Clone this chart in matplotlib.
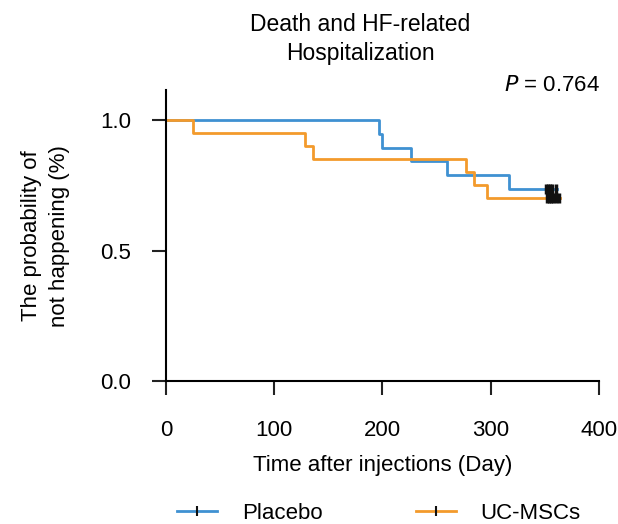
import matplotlib.pyplot as plt
from matplotlib.lines import Line2D

plt.rcParams['font.family'] = ['Liberation Sans', 'DejaVu Sans']
plt.rcParams['font.size'] = 16

# Kaplan-Meier steps
placebo_t = [0, 197, 200, 226, 260, 317, 361]
placebo_s = [1.0, 0.947, 0.895, 0.842, 0.789, 0.737, 0.737]
placebo_cens = [351, 353, 355, 357, 360]

msc_t = [0, 25, 128, 136, 277, 285, 297, 364]
msc_s = [1.0, 0.95, 0.90, 0.85, 0.80, 0.75, 0.70, 0.70]
msc_cens = [352, 354, 356, 358, 360, 363]

blue = '#3f91d2'
orange = '#f39a2c'

fig = plt.figure(figsize=(6.18, 5.24), dpi=100)
ax = fig.add_axes([0.2686, 0.2729, 0.7005, 0.5551])

ax.step(placebo_t, placebo_s, where='post', color=blue, lw=2)
ax.step(msc_t, msc_s, where='post', color=orange, lw=2)
ax.plot(placebo_cens, [placebo_s[-1]] * len(placebo_cens), ls='none',
        marker='|', ms=7, mew=2.5, color='#111111')
ax.plot(msc_cens, [msc_s[-1]] * len(msc_cens), ls='none',
        marker='|', ms=7, mew=2.5, color='#111111')

ax.set_xlim(0, 400)
ax.set_ylim(0, 1.115)
ax.set_xticks([0, 100, 200, 300, 400])
ax.set_yticks([0.0, 0.5, 1.0])
ax.set_yticklabels(['0.0', '0.5', '1.0'])
for s in ['top', 'right']:
    ax.spines[s].set_visible(False)
for s in ['left', 'bottom']:
    ax.spines[s].set_linewidth(1.5)
ax.tick_params(length=10, width=1.5, labelsize=16, color='#222222')
ax.tick_params(axis='x', pad=18)
ax.tick_params(axis='y', pad=15)

ax.set_xlabel('Time after injections (Day)', labelpad=10)
ax.set_ylabel('The probability of\nnot happening (%)', labelpad=22,
              linespacing=1.45)

fig.text(0.583, 0.975, 'Death and HF-related\nHospitalization', ha='center',
         va='top', fontsize=16.5, linespacing=1.35)
ax.text(1.003, 1.015, r'$P$ = 0.764', transform=ax.transAxes, ha='right',
        va='center', fontsize=16)

handles = [Line2D([], [], color=blue, lw=2, marker='|', mec='#111111', ms=7, mew=1.5),
           Line2D([], [], color=orange, lw=2, marker='|', mec='#111111', ms=7, mew=1.5)]
fig.legend(handles, ['Placebo', 'UC-MSCs'], loc='center', ncol=2,
           bbox_to_anchor=(0.613, 0.02), frameon=False, numpoints=1,
           handlelength=1.8, handletextpad=1.1, columnspacing=4.2)

fig.savefig('out.png', dpi=100)
